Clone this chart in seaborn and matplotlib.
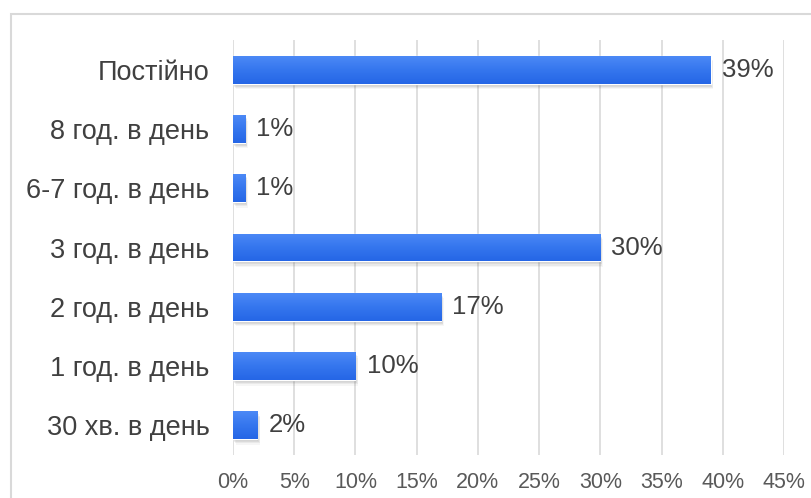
import matplotlib
matplotlib.use("Agg")
import matplotlib.pyplot as plt
import matplotlib.patheffects as pe
from matplotlib.patches import Rectangle
import numpy as np
import pandas as pd
import seaborn as sns

categories = ["Постійно", "8 год. в день", "6-7 год. в день", "3 год. в день",
              "2 год. в день", "1 год. в день", "30 хв. в день"]
values = [39, 1, 1, 30, 17, 10, 2]
tick_values = [0, 5, 10, 15, 20, 25, 30, 35, 40, 45]
tick_labels = [f"{v}%" for v in tick_values]

df = pd.DataFrame({"category": categories, "value": values})

sns.set_theme(style="white")
plt.rcParams["font.family"] = ["Liberation Sans", "DejaVu Sans"]

W, H = 811, 498
fig = plt.figure(figsize=(W / 100, H / 100), dpi=100)
ax = fig.add_axes([233 / W, 1 - 455 / H, (784 - 233) / W, (455 - 40) / H])

sns.barplot(data=df, x="value", y="category", orient="h", color="#3A78EE",
            width=0.47, saturation=1, ax=ax, zorder=3)

# soft drop shadow (several faint layers) and vertical gradient on each bar
grad = np.linspace(0, 1, 64).reshape(-1, 1)
cmap = matplotlib.colors.LinearSegmentedColormap.from_list(
    "barblue", ["#4C89F6", "#3576EE", "#2566E6"])
shadow = [pe.SimplePatchShadow(offset=(dx, dy), shadow_rgbFace="#666666", alpha=a)
          for dx, dy, a in [(2.0, -4.0, 0.06), (1.5, -3.0, 0.09), (1.0, -2.2, 0.11),
                            (0.6, -1.4, 0.12)]]
for p in ax.patches:
    p.set_path_effects(shadow + [pe.Normal()])
    x0, y0 = p.get_x(), p.get_y()
    w, h = p.get_width(), p.get_height()
    im = ax.imshow(grad, cmap=cmap, aspect="auto", extent=(x0, x0 + w, y0 + h, y0),
                   origin="upper", zorder=4)
    im.set_clip_path(p)

ax.set_xlim(0, 45)
ax.set_ylim(6.5, -0.5)
ax.set_xticks(tick_values)
ax.set_xticklabels(tick_labels)
ax.set_xlabel("")
ax.set_ylabel("")
ax.grid(axis="x", color="#D9D9D9", linewidth=1.2, zorder=0)
ax.grid(axis="y", visible=False)
for s in ax.spines.values():
    s.set_visible(False)
ax.tick_params(axis="y", length=0, pad=17, labelsize=19.5, labelcolor="#404040")
ax.tick_params(axis="x", length=0, pad=12, labelsize=15.5, labelcolor="#595959")

for i, v in enumerate(values):
    ax.annotate(f"{v}%", xy=(v, i), xytext=(8, 0), textcoords="offset points",
                va="center", ha="left", fontsize=18.5, color="#404040", zorder=5)

# chart frame
fig.patches.append(Rectangle((11 / W, -0.5), 2, 1.5 - 14 / H, transform=fig.transFigure,
                             fill=False, edgecolor="#D9D9D9", linewidth=1.5))

fig.savefig("out.png", dpi=100)
